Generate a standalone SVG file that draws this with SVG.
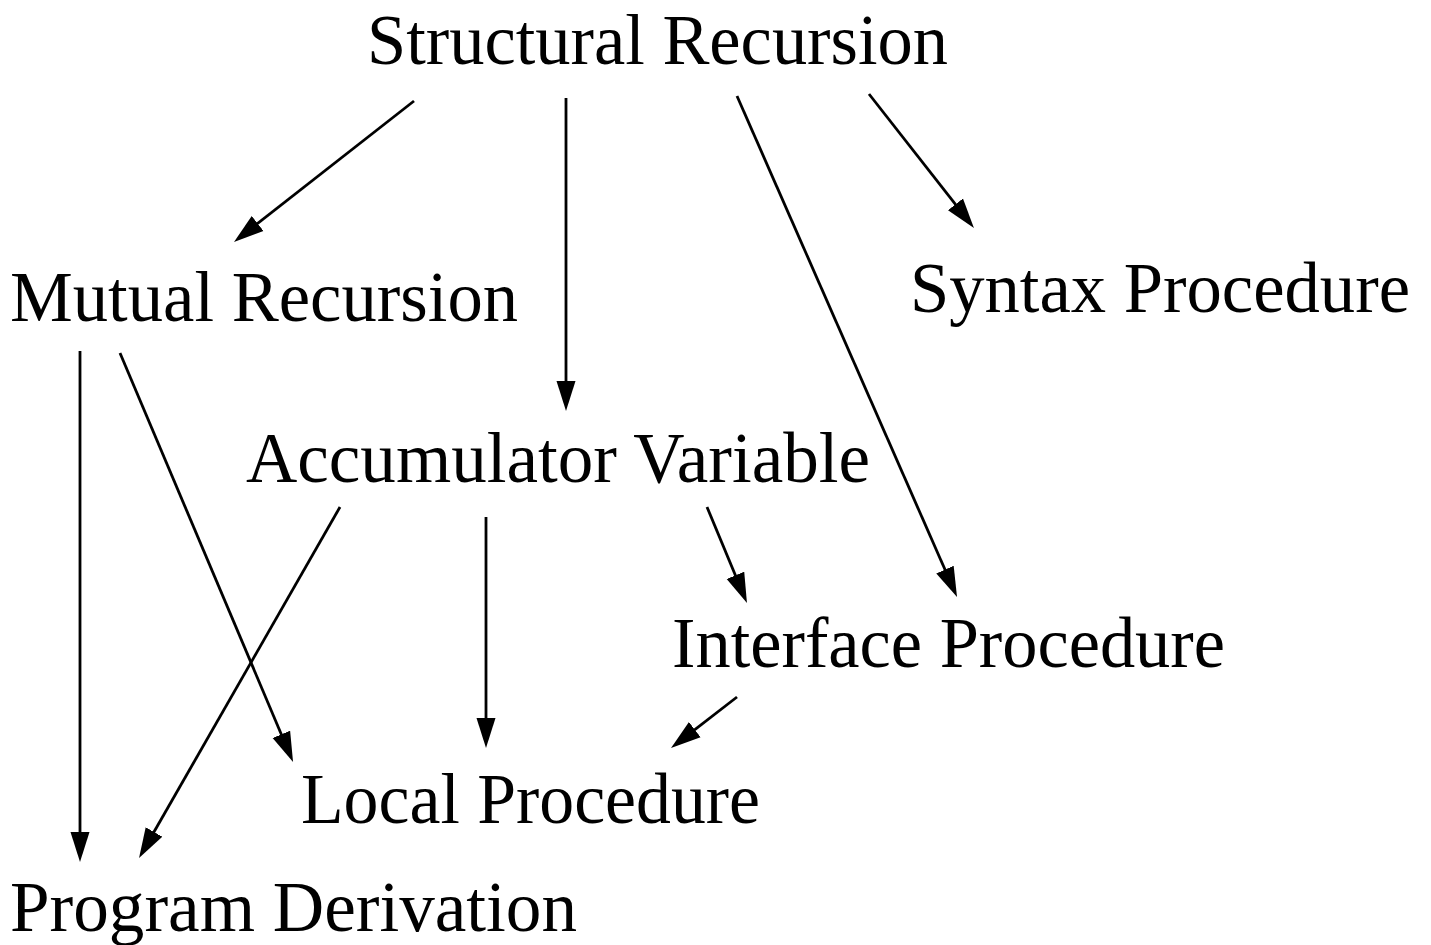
<svg xmlns="http://www.w3.org/2000/svg" width="1431" height="945" viewBox="0 0 1431 945">
<style>
text{font-family:"Liberation Serif","DejaVu Serif",serif;font-size:72px;fill:#000}
.c line{stroke:#000;stroke-width:2.8;fill:none}
</style>
<defs>
<marker id="ah" viewBox="0 -10 30 20" refX="15" refY="0" markerWidth="30" markerHeight="20" markerUnits="userSpaceOnUse" orient="auto">
<path d="M0,-9.5 L30,0 L0,9.5 z" fill="#000"/>
</marker>
</defs>
<rect width="1431" height="945" fill="#fff"/>
<g class="c" id="connectors">
<line x1="414" y1="101" x2="245.8" y2="232.7" marker-end="url(#ah)"/>
<line x1="566" y1="98" x2="566" y2="396" marker-end="url(#ah)"/>
<line x1="737" y1="96" x2="951" y2="583.3" marker-end="url(#ah)"/>
<line x1="869" y1="94" x2="964.7" y2="216.2" marker-end="url(#ah)"/>
<line x1="80" y1="351" x2="80" y2="847" marker-end="url(#ah)"/>
<line x1="120" y1="353" x2="287.2" y2="748.2" marker-end="url(#ah)"/>
<line x1="340" y1="507" x2="146.5" y2="845" marker-end="url(#ah)"/>
<line x1="486" y1="517" x2="486" y2="733" marker-end="url(#ah)"/>
<line x1="707" y1="507" x2="741.2" y2="589.2" marker-end="url(#ah)"/>
<line x1="737" y1="697" x2="682.9" y2="738.8" marker-end="url(#ah)"/>
</g>
<g id="structural"><text x="367" y="64" style="font-size:71px" textLength="581" lengthAdjust="spacingAndGlyphs">Structural Recursion</text></g>
<g id="mutual"><text x="10" y="321" textLength="508" lengthAdjust="spacingAndGlyphs">Mutual Recursion</text></g>
<g id="syntax"><text x="910" y="312" textLength="500" lengthAdjust="spacingAndGlyphs">Syntax Procedure</text></g>
<g id="accumulator"><text x="246" y="482" textLength="624" lengthAdjust="spacingAndGlyphs">Accumulator Variable</text></g>
<g id="interface"><text x="672" y="667" textLength="553" lengthAdjust="spacingAndGlyphs">Interface Procedure</text></g>
<g id="local"><text x="301" y="823" textLength="459" lengthAdjust="spacingAndGlyphs">Local Procedure</text></g>
<g id="program"><text x="10" y="931" textLength="567" lengthAdjust="spacingAndGlyphs">Program Derivation</text></g>
</svg>
